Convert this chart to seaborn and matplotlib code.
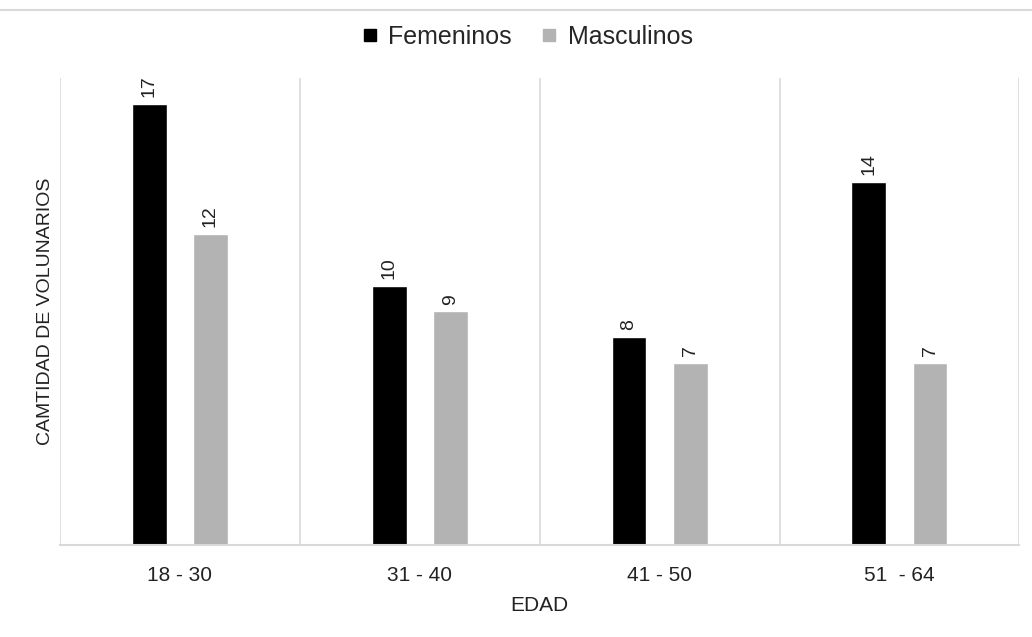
import seaborn as sns
import pandas as pd
import matplotlib
import matplotlib.pyplot as plt
from matplotlib.lines import Line2D
matplotlib.use('Agg')

# data
edades = ["18 - 30", "31 - 40", "41 - 50", "51  - 64"]
femeninos = [17, 10, 8, 14]
masculinos = [12, 9, 7, 7]
series = ["Femeninos", "Masculinos"]
pal = {"Femeninos": "#000000", "Masculinos": "#b3b3b3"}

df = pd.DataFrame({
    "edad": edades * 2,
    "cantidad": femeninos + masculinos,
    "sexo": [series[0]] * len(edades) + [series[1]] * len(edades),
})

sns.set_style("white")
plt.rcParams['font.family'] = ['Liberation Sans', 'DejaVu Sans']

fig = plt.figure(figsize=(10.32, 6.37), dpi=100)
ax = fig.add_axes([0.0581, 0.1444, 0.9297, 0.7332])

sns.barplot(data=df, x="edad", y="cantidad", hue="sexo", palette=pal,
            width=0.51, gap=0.43, ax=ax, legend=False, saturation=1)

for c in ax.containers:
    ax.bar_label(c, rotation=90, padding=5, fontsize=14, color="#222222")

#separators
for xv in [-0.5, 0.5, 1.5, 2.5, 3.5]:
    ax.axvline(xv, color="#d9d9d9", lw=1.2, zorder=0)

ax.set_xlim(-0.5, 3.5)
ax.set_ylim(0, 18)
ax.set_yticks([])
for s in ["top", "right", "left"]:
    ax.spines[s].set_visible(False)
ax.spines["bottom"].set_color("#d9d9d9")
ax.spines["bottom"].set_linewidth(1.5)
ax.tick_params(axis='x', length=0, labelsize=15, pad=15, labelcolor="#222222")
ax.set_xlabel("EDAD", fontsize=15, labelpad=8, color="#222222")
ax.set_ylabel("CAMTIDAD DE VOLUNARIOS", fontsize=14, labelpad=4, color="#222222")

#legend
handles = [Line2D([], [], marker="s", ls="", color=pal[s], markersize=9) for s in series]
fig.legend(handles, series, loc="center", bbox_to_anchor=(0.51, 0.942), ncol=2,
           frameon=False, fontsize=18, handlelength=0.8, handletextpad=0.35, columnspacing=1.1)

# top border line
fig.add_artist(Line2D([0, 1], [0.985, 0.985], color="#d9d9d9", lw=1.5, transform=fig.transFigure))

fig.savefig("out.png", dpi=100)
